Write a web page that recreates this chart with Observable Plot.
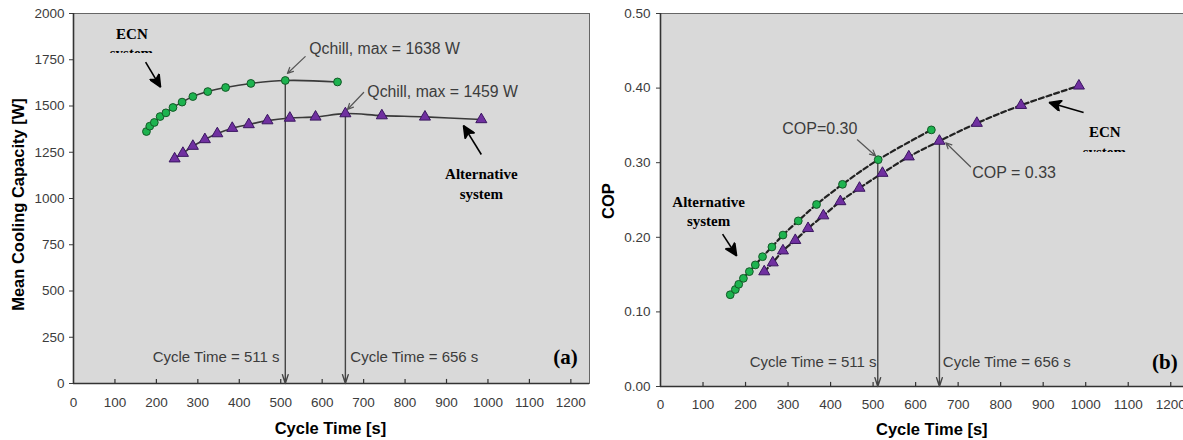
<!DOCTYPE html>
<html><head><meta charset="utf-8">
<script src="https://cdn.jsdelivr.net/npm/d3@7"></script>
<script src="https://cdn.jsdelivr.net/npm/@observablehq/plot@0.6"></script>
<style>
body{margin:0;background:#fff;}
#wrap{position:relative;width:1183px;height:440px;overflow:hidden;background:#fff;}
#a{position:absolute;left:0;top:0;}
#b{position:absolute;left:590px;top:0;}
</style></head><body>
<div id="wrap"><div id="a"></div><div id="b"></div></div>
<script>
// ---- data ----
const ecnTimeA = [176,184,195,209,223,240,262,288,324,367,428,511,637];
const ecnCapA  = [1362,1391,1411,1443,1463,1492,1521,1551,1578,1600,1622,1638,1630];
const altTime  = [244,264,288,317,347,383,423,468,522,584,656,744,848,984];
const altCapA  = [1215,1245,1283,1319,1351,1380,1400,1421,1435,1441,1459,1448,1441,1427];
const ecnTimeB = [164,176,184,195,209,223,240,262,288,324,367,428,512,637];
const ecnCopB  = [0.123,0.130,0.137,0.145,0.154,0.163,0.174,0.187,0.203,0.222,0.244,0.271,0.304,0.344];
const altCopB  = [0.154,0.166,0.182,0.196,0.212,0.229,0.248,0.266,0.286,0.308,0.329,0.353,0.377,0.403];
const timeTicks = [0,100,200,300,400,500,600,700,800,900,1000,1100,1200];
const capTicks  = [0,250,500,750,1000,1250,1500,1750,2000];
const copTicks  = [0,0.1,0.2,0.3,0.4,0.5];
const optTime = [511,656];
const optCap  = [1638,1459];
const optCop  = [0.304,0.329];

const ecnA = ecnTimeA.map((t,i)=>({t, v:ecnCapA[i]}));
const altA = altTime.map((t,i)=>({t, v:altCapA[i]}));
const ecnB = ecnTimeB.map((t,i)=>({t, v:ecnCopB[i]}));
const altB = altTime.map((t,i)=>({t, v:altCopB[i]}));
const optA = optTime.map((t,i)=>({t, v:optCap[i]}));
const optB = optTime.map((t,i)=>({t, v:optCop[i]}));

const GREEN="#1db34f", GREENS="#145a28", PURPLE="#7030a0", PURPLES="#3a1660";
const TXT="#3c3c3c", ARR="#555";
const FONT="'Liberation Sans',Arial,sans-serif";
const SERIF="'Liberation Serif','Times New Roman',serif";
const fmtInt = d => `${d}`;

function filledHead(color){
  const m = d3.create("svg:marker")
    .attr("viewBox","-7 -6 14 12")
    .attr("markerUnits","userSpaceOnUse")
    .attr("markerWidth",14).attr("markerHeight",12)
    .attr("refX",6).attr("refY",0)
    .attr("orient","auto");
  m.append("path").attr("d","M-6,-5.5L6,0L-6,5.5L-3,0Z").attr("fill","#000");
  return m.node();
}

function addClipped(chart, id, px, py, clipY){
  const svg = d3.select(chart);
  const sx = chart.scale("x"), sy = chart.scale("y");
  const X = sx.apply(px), Y = sy.apply(py);
  svg.append("clipPath").attr("id",id).append("rect")
    .attr("x",X-40).attr("y",0).attr("width",80).attr("height",clipY);
  svg.append("text").attr("x",X).attr("y",Y).attr("text-anchor","middle")
    .attr("clip-path",`url(#${id})`)
    .attr("font-family",SERIF).attr("font-weight","bold").attr("font-size",15)
    .attr("fill","#000").text("system");
}

// ---- panel (a) ----
const chartA = Plot.plot({
  width:590, height:440,
  marginLeft:73, marginRight:1, marginTop:13, marginBottom:57,
  style:{fontFamily:FONT, fontSize:"13.5px", color:TXT, background:"transparent"},
  x:{domain:[0,1245]},
  y:{domain:[0,2000]},
  marks:[
    Plot.frame({fill:"#d9d9d9", stroke:"#666"}),
    Plot.ruleX(timeTicks.slice(1), {x:d=>d, y1:0, y2:22, stroke:"#333", strokeWidth:1.2}),
    Plot.axisY({ticks:capTicks, tickFormat:fmtInt, tickSize:4, tickPadding:5, label:null}),
    Plot.axisX({ticks:timeTicks, tickFormat:fmtInt, tickSize:0, tickPadding:14, label:null}),
    Plot.ruleY([0], {stroke:"#333", strokeWidth:1.6}),
    Plot.ruleX([0], {stroke:"#333", strokeWidth:1.6}),
    Plot.text(["Mean Cooling Capacity [W]"], {frameAnchor:"left", textAnchor:"middle", lineAnchor:"middle", dx:-55, dy:6, rotate:-90, fontWeight:"bold", fontSize:16.5, fill:"#000"}),
    Plot.text(["Cycle Time [s]"], {x:620, frameAnchor:"bottom", lineAnchor:"middle", dy:45, fontWeight:"bold", fontSize:16.5, fill:"#000"}),
    Plot.line(ecnA, {x:"t", y:"v", curve:"catmull-rom", stroke:"#3a3a3a", strokeWidth:1.6}),
    Plot.line(altA, {x:"t", y:"v", curve:"catmull-rom", stroke:"#3a3a3a", strokeWidth:1.6}),
    Plot.arrow(optA, {x1:"t", x2:"t", y1:"v", y2:0, stroke:"#444", strokeWidth:1.4, headLength:10, headAngle:36}),
    Plot.dot(ecnA, {x:"t", y:"v", r:3.9, fill:GREEN, stroke:GREENS, strokeWidth:1}),
    Plot.dot(altA, {x:"t", y:"v", symbol:"triangle", r:4.1, fill:PURPLE, stroke:PURPLES, strokeWidth:1}),
    // annotations
    Plot.text(["Qchill, max = 1638 W"], {x:569, y:1811, textAnchor:"start", fontSize:15.8, fill:TXT}),
    Plot.arrow([0], {x1:559, y1:1767, x2:516, y2:1676, stroke:ARR, strokeWidth:1.2, headLength:8, headAngle:50}),
    Plot.text(["Qchill, max = 1459 W"], {x:709, y:1575, textAnchor:"start", fontSize:15.8, fill:TXT}),
    Plot.arrow([0], {x1:700, y1:1573, x2:661, y2:1481, stroke:ARR, strokeWidth:1.2, headLength:8, headAngle:50}),
    Plot.text(["Cycle Time = 511 s"], {x:497, y:140, textAnchor:"end", fontSize:15, fill:TXT}),
    Plot.text(["Cycle Time = 656 s"], {x:668, y:140, textAnchor:"start", fontSize:15, fill:TXT}),
    Plot.text(["(a)"], {x:1187, y:140, fontFamily:SERIF, fontWeight:"bold", fontSize:21, fill:"#000"}),
    Plot.text(["ECN"], {x:141, y:1890, fontFamily:SERIF, fontWeight:"bold", fontSize:15, fill:"#000"}),
    Plot.link([0], {x1:174, y1:1737, x2:210, y2:1602, stroke:"#000", strokeWidth:1.6, markerEnd:filledHead}),
    Plot.text(["Alternative"], {x:984, y:1134, fontFamily:SERIF, fontWeight:"bold", fontSize:15, fill:"#000"}),
    Plot.text(["system"], {x:984, y:1026, fontFamily:SERIF, fontWeight:"bold", fontSize:15, fill:"#000"}),
    Plot.link([0], {x1:984, y1:1238, x2:941, y2:1394, stroke:"#000", strokeWidth:1.6, markerEnd:filledHead})
  ]
});
document.getElementById("a").append(chartA);
addClipped(chartA, "clipA", 141, 1755, 53);

// ---- panel (b) ----
const chartB = Plot.plot({
  width:593, height:440,
  marginLeft:70, marginRight:0, marginTop:13, marginBottom:54,
  style:{fontFamily:FONT, fontSize:"13.5px", color:TXT, background:"transparent"},
  x:{domain:[0,1230]},
  y:{domain:[0,0.5]},
  marks:[
    Plot.frame({fill:"#d9d9d9", stroke:"#666"}),
    Plot.ruleX(timeTicks.slice(1), {x:d=>d, y1:0, y2:0.0055, stroke:"#333", strokeWidth:1.2}),
    Plot.axisY({ticks:copTicks, tickFormat:d3.format(".2f"), tickSize:4, tickPadding:6, label:null}),
    Plot.axisX({ticks:timeTicks, tickFormat:fmtInt, tickSize:0, tickPadding:13, label:null}),
    Plot.ruleY([0], {stroke:"#333", strokeWidth:1.6}),
    Plot.ruleX([0], {stroke:"#333", strokeWidth:1.6}),
    Plot.text(["COP"], {frameAnchor:"left", textAnchor:"middle", lineAnchor:"middle", dx:-52, dy:1, rotate:-90, fontWeight:"bold", fontSize:16.5, fill:"#000"}),
    Plot.text(["Cycle Time [s]"], {x:638, frameAnchor:"bottom", lineAnchor:"middle", dy:43, fontWeight:"bold", fontSize:16.5, fill:"#000"}),
    Plot.line(ecnB, {x:"t", y:"v", curve:"catmull-rom", stroke:"#222", strokeWidth:2.2, strokeDasharray:"5,3"}),
    Plot.line(altB, {x:"t", y:"v", curve:"catmull-rom", stroke:"#222", strokeWidth:2.2, strokeDasharray:"5,3"}),
    Plot.arrow(optB, {x1:"t", x2:"t", y1:"v", y2:0, stroke:"#444", strokeWidth:1.4, headLength:10, headAngle:36}),
    Plot.dot(ecnB, {x:"t", y:"v", r:3.9, fill:GREEN, stroke:GREENS, strokeWidth:1}),
    Plot.dot(altB, {x:"t", y:"v", symbol:"triangle", r:4.1, fill:PURPLE, stroke:PURPLES, strokeWidth:1}),
    // annotations
    Plot.text(["COP=0.30"], {x:463, y:0.3454, textAnchor:"end", fontSize:16, fill:TXT}),
    Plot.arrow([0], {x1:463, y1:0.3307, x2:506, y2:0.309, stroke:ARR, strokeWidth:1.2, headLength:8, headAngle:50}),
    Plot.text(["COP = 0.33"], {x:733, y:0.2865, textAnchor:"start", fontSize:16, fill:TXT}),
    Plot.arrow([0], {x1:729, y1:0.2945, x2:671, y2:0.3267, stroke:ARR, strokeWidth:1.2, headLength:8, headAngle:50}),
    Plot.text(["Cycle Time = 511 s"], {x:508, y:0.0324, textAnchor:"end", fontSize:15, fill:TXT}),
    Plot.text(["Cycle Time = 656 s"], {x:664, y:0.0324, textAnchor:"start", fontSize:15, fill:TXT}),
    Plot.text(["(b)"], {x:1186, y:0.032, fontFamily:SERIF, fontWeight:"bold", fontSize:21, fill:"#000"}),
    Plot.text(["ECN"], {x:1045, y:0.3414, fontFamily:SERIF, fontWeight:"bold", fontSize:15, fill:"#000"}),
    Plot.link([0], {x1:995, y1:0.3673, x2:914, y2:0.3807, stroke:"#000", strokeWidth:1.6, markerEnd:filledHead}),
    Plot.text(["Alternative"], {x:113, y:0.2476, fontFamily:SERIF, fontWeight:"bold", fontSize:15, fill:"#000"}),
    Plot.text(["system"], {x:113, y:0.2212, fontFamily:SERIF, fontWeight:"bold", fontSize:15, fill:"#000"}),
    Plot.link([0], {x1:146, y1:0.2043, x2:179, y2:0.1752, stroke:"#000", strokeWidth:1.6, markerEnd:filledHead})
  ]
});
document.getElementById("b").append(chartB);
addClipped(chartB, "clipB", 1045, 0.3066, 152);
</script>
</body></html>
